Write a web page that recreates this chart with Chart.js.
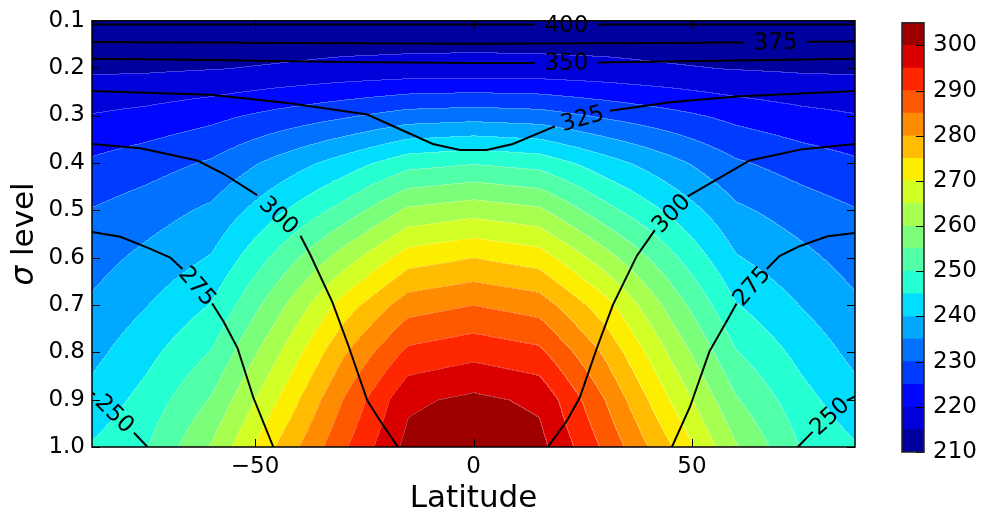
<!DOCTYPE html>
<html>
<head>
<meta charset="utf-8">
<script src="https://cdn.jsdelivr.net/npm/chart.js@4.4.1/dist/chart.umd.min.js"></script>
<style>
  html, body { margin: 0; padding: 0; background: #fff; }
  #wrap { position: relative; width: 986px; height: 518px; }
  #field { position: absolute; left: 0; top: 0; width: 986px; height: 518px; }
  #bar { position: absolute; left: 890px; top: 0; width: 96px; height: 518px; }
</style>
</head>
<body>
<div id="wrap">
  <canvas id="field" width="986" height="518"></canvas>
  <canvas id="bar" width="96" height="518"></canvas>
</div>
<script>
// temperature (K) on latitude x sigma grid
const latitudes = [-87.3, -75, -60, -45, -30, -15, 0, 15, 30, 45, 60, 75, 87.3];
const sigmaLevels = [0.1, 0.2, 0.3, 0.4, 0.5, 0.6, 0.7, 0.8, 0.9, 1.0];
const temperature = [
  [211.4, 211.2, 210.8, 211.0, 211.2, 211.3, 211.5, 211.3, 211.2, 211.0, 210.8, 211.2, 211.4],
  [214.2, 214.3, 214.8, 215.5, 216.3, 216.7, 216.8, 216.7, 216.3, 215.5, 214.8, 214.3, 214.2],
  [220.3, 221.5, 223.6, 226.6, 229.3, 232.2, 233.0, 232.2, 229.3, 226.6, 223.6, 221.5, 220.3],
  [225.8, 227.8, 230.7, 236.6, 242.2, 248.2, 249.7, 248.2, 242.2, 236.6, 230.7, 227.8, 225.8],
  [230.3, 232.6, 236.0, 244.0, 251.8, 261.0, 263.1, 261.0, 251.8, 244.0, 236.0, 232.6, 230.3],
  [233.0, 236.3, 240.4, 251.3, 262.2, 272.6, 275.0, 272.6, 262.2, 251.3, 240.4, 236.3, 233.0],
  [235.8, 239.8, 245.3, 258.2, 272.0, 282.8, 285.0, 282.8, 272.0, 258.2, 245.3, 239.8, 235.8],
  [238.6, 243.4, 250.3, 264.2, 279.2, 291.3, 293.5, 291.3, 279.2, 264.2, 250.3, 243.4, 238.6],
  [241.7, 246.8, 255.5, 269.8, 285.0, 299.0, 301.2, 299.0, 285.0, 269.8, 255.5, 246.8, 241.7],
  [245.5, 249.7, 260.5, 275.5, 289.0, 301.7, 304.0, 301.7, 289.0, 275.5, 260.5, 249.7, 245.5]
];

// filled contour levels and colorbar ticks
const levels = [210, 215, 220, 225, 230, 235, 240, 245, 250, 255, 260, 265, 270, 275, 280, 285, 290, 295, 300, 305];
const barTicks = [210, 220, 230, 240, 250, 260, 270, 280, 290, 300];
const latTicks = [-50, 0, 50];
const sigmaTicks = [0.1, 0.2, 0.3, 0.4, 0.5, 0.6, 0.7, 0.8, 0.9, 1.0];

// potential temperature contours, [lat, sigma]; null = gap holding the label
const theta400 = [[-87.3, 0.108], [14, 0.108], null, [28.5, 0.108], [87.3, 0.108]];
const theta375 = [[-87.3, 0.145], [-40, 0.147], [0, 0.1485], [40, 0.147], [62, 0.146], null, [76.3, 0.144], [87.3, 0.1435]];
const theta350 = [[-87.3, 0.180], [-60, 0.183], [-30, 0.187], [0, 0.189], [14, 0.189], null, [28.5, 0.188], [60, 0.184], [87.3, 0.180]];
const theta325 = [[-87.3, 0.248], [-60.2, 0.256], [-42, 0.274], [-24.3, 0.298], [-9.3, 0.36], [-3.1, 0.373], [3.0, 0.373],
  [9.0, 0.36], [18.6, 0.323], null, [31.2, 0.29], [45, 0.272], [60.2, 0.26], [87.3, 0.248]];
const theta300West = [[-87.3, 0.36], [-76.2, 0.369], [-63.2, 0.395], [-57.2, 0.423], [-49.5, 0.468], null,
  [-39.6, 0.554], [-37.4, 0.593], [-32.3, 0.694], [-28.7, 0.784], [-24.3, 0.902], [-21.4, 0.944], [-17.3, 1.0]];
const theta300East = [[17.0, 1.0], [21.4, 0.944], [24.3, 0.896], [28.2, 0.792], [31.9, 0.700], [37.4, 0.596], [41.5, 0.542], null,
  [49.0, 0.471], [63.2, 0.395], [75.3, 0.371], [87.3, 0.36]];
const theta275West = [[-87.3, 0.546], [-80.8, 0.556], [-74.6, 0.579], [-69.4, 0.6], [-66.6, 0.624], null,
  [-59.8, 0.697], [-57.2, 0.735], [-54.0, 0.791], [-50.4, 0.895], [-45.8, 1.0]];
const theta275East = [[45.4, 1.0], [49.5, 0.916], [54.0, 0.798], [57.9, 0.735], [60.2, 0.697], null,
  [67.1, 0.624], [70.0, 0.597], [74.6, 0.576], [81.0, 0.555], [87.3, 0.548]];
const theta250West = [[-87.3, 0.885], [-86.6, 0.89], null, [-77.7, 0.97], [-74.6, 1.0]];
const theta250East = [[74.2, 1.0], [77.6, 0.968], null, [85.4, 0.902], [87.3, 0.893]];

const contours = [
  [400, theta400], [375, theta375], [350, theta350], [325, theta325],
  [300, theta300West], [300, theta300East], [275, theta275West], [275, theta275East],
  [250, theta250West], [250, theta250East]
];

const FONT = '"DejaVu Sans", "Liberation Sans", sans-serif';
Chart.defaults.font.family = FONT;
Chart.defaults.color = '#000';

function jet(v) {
  const r = v < 0.35 ? 0 : v < 0.66 ? (v - 0.35) / 0.31 : v < 0.89 ? 1 : 1 - 0.5 * (v - 0.89) / 0.11;
  const g = v < 0.125 ? 0 : v < 0.375 ? (v - 0.125) / 0.25 : v < 0.64 ? 1 : v < 0.91 ? 1 - (v - 0.64) / 0.27 : 0;
  const b = v < 0.11 ? 0.5 + 0.5 * v / 0.11 : v < 0.34 ? 1 : v < 0.65 ? 1 - (v - 0.34) / 0.31 : 0;
  return [r, g, b].map(c => Math.round(255 * Math.max(0, Math.min(1, c))));
}

// colour of each band: jet at the band midpoint
const lo = levels[0], hi = levels[levels.length - 1];
const bandColors = levels.slice(0, -1).map((l, i) => jet(((l + levels[i + 1]) / 2 - lo) / (hi - lo)));

function locate(nodes, v) {
  let k = 0;
  while (k < nodes.length - 2 && v > nodes[k + 1]) k++;
  const f = (v - nodes[k]) / (nodes[k + 1] - nodes[k]);
  return [k, Math.max(0, Math.min(1, f))];
}

function bandOf(t) {
  let b = 0;
  while (b < levels.length - 2 && t >= levels[b + 1]) b++;
  return b;
}

// filled temperature bands behind the contour lines
const fieldPlugin = {
  id: 'field',
  beforeDatasetsDraw(chart) {
    const { ctx, chartArea: a, scales: { x, y } } = chart;
    const left = Math.round(a.left), top = Math.round(a.top);
    const w = Math.round(a.right) - left, h = Math.round(a.bottom) - top;
    const cols = [], rows = [];
    for (let i = 0; i < w; i++) cols.push(locate(latitudes, x.getValueForPixel(left + i + 0.5)));
    for (let j = 0; j < h; j++) rows.push(locate(sigmaLevels, y.getValueForPixel(top + j + 0.5)));
    const band = new Int16Array(w * h);
    for (let j = 0; j < h; j++) {
      const [r, fr] = rows[j];
      const t0 = temperature[r], t1 = temperature[r + 1];
      for (let i = 0; i < w; i++) {
        const [c, fc] = cols[i];
        const a0 = t0[c] + (t0[c + 1] - t0[c]) * fc;
        const a1 = t1[c] + (t1[c + 1] - t1[c]) * fc;
        band[j * w + i] = bandOf(a0 + (a1 - a0) * fr);
      }
    }
    const off = document.createElement('canvas');
    off.width = w; off.height = h;
    const octx = off.getContext('2d');
    const img = octx.createImageData(w, h);
    for (let j = 0; j < h; j++) {
      for (let i = 0; i < w; i++) {
        const k = j * w + i, b = band[k];
        const col = bandColors[b];
        const seam = (i > 0 && band[k - 1] !== b) || (j > 0 && band[k - w] !== b);
        for (let ch = 0; ch < 3; ch++) {
          img.data[k * 4 + ch] = seam ? col[ch] + (255 - col[ch]) * 0.25 : col[ch];
        }
        img.data[k * 4 + 3] = 255;
      }
    }
    octx.putImageData(img, 0, 0);
    ctx.drawImage(off, left, top);
  }
};

// inline level labels in the gaps of each contour
const labelPlugin = {
  id: 'labels',
  afterDatasetsDraw(chart) {
    const { ctx, scales: { x, y } } = chart;
    ctx.save();
    ctx.fillStyle = '#000';
    ctx.font = '23px ' + FONT;
    ctx.textAlign = 'center';
    ctx.textBaseline = 'middle';
    contours.forEach(([level, pts]) => {
      pts.forEach((p, k) => {
        if (p !== null) return;
        const p0 = pts[k - 1], p1 = pts[k + 1];
        const x0 = x.getPixelForValue(p0[0]), y0 = y.getPixelForValue(p0[1]);
        const x1 = x.getPixelForValue(p1[0]), y1 = y.getPixelForValue(p1[1]);
        let ang = Math.atan2(y1 - y0, x1 - x0);
        if (ang > Math.PI / 2) ang -= Math.PI;
        if (ang < -Math.PI / 2) ang += Math.PI;
        ctx.save();
        ctx.translate((x0 + x1) / 2, (y0 + y1) / 2);
        ctx.rotate(ang);
        ctx.fillText(String(level), 0, 1);
        ctx.restore();
      });
    });
    ctx.restore();
  }
};

function strokeLine(ctx, x0, y0, x1, y1) {
  ctx.beginPath(); ctx.moveTo(x0, y0); ctx.lineTo(x1, y1); ctx.stroke();
}

// frame, inward ticks and the sigma axis title
const framePlugin = {
  id: 'frame',
  afterDraw(chart) {
    const { ctx, chartArea: a, scales: { x, y } } = chart;
    ctx.save();
    ctx.strokeStyle = '#000';
    ctx.lineWidth = 1;
    latTicks.forEach(v => {
      const px = Math.round(x.getPixelForValue(v)) + 0.5;
      strokeLine(ctx, px, a.top, px, a.top + 8);
      strokeLine(ctx, px, a.bottom, px, a.bottom - 8);
    });
    sigmaTicks.forEach(v => {
      const py = Math.round(y.getPixelForValue(v)) + 0.5;
      strokeLine(ctx, a.left, py, a.left + 8, py);
      strokeLine(ctx, a.right, py, a.right - 8, py);
    });
    ctx.lineWidth = 1.5;
    ctx.strokeRect(a.left, a.top, a.right - a.left, a.bottom - a.top);

    ctx.translate(33, (a.top + a.bottom) / 2);
    ctx.rotate(-Math.PI / 2);
    ctx.fillStyle = '#000';
    ctx.textBaseline = 'alphabetic';
    ctx.textAlign = 'left';
    const italic = 'italic 31px ' + FONT, plain = '31px ' + FONT;
    ctx.font = italic;
    const w1 = ctx.measureText('σ').width;
    ctx.font = plain;
    const w2 = ctx.measureText(' level').width;
    const sx = -(w1 + w2) / 2;
    ctx.font = italic;
    ctx.fillText('σ', sx, 0);
    ctx.font = plain;
    ctx.fillText(' level', sx + w1, 0);
    ctx.restore();
  }
};

const lineSets = contours.map(([level, pts]) => ({
  label: String(level),
  data: pts.map(p => p ? { x: p[0], y: p[1] } : { x: null, y: null }),
  showLine: true,
  spanGaps: false,
  borderColor: '#000',
  borderWidth: 2,
  pointRadius: 0,
  tension: 0
}));

const fmtLat = v => v < 0 ? '\u2212' + Math.abs(v) : String(v);

new Chart(document.getElementById('field'), {
  type: 'scatter',
  data: { datasets: lineSets },
  options: {
    responsive: false,
    animation: false,
    events: [],
    layout: { padding: { left: 0, top: 15, right: 131, bottom: 0 } },
    plugins: { legend: { display: false }, tooltip: { enabled: false } },
    scales: {
      x: {
        type: 'linear',
        min: latitudes[0],
        max: latitudes[latitudes.length - 1],
        bounds: 'data',
        grid: { display: false, drawTicks: false },
        border: { display: false },
        afterBuildTicks: s => { s.ticks = latTicks.map(v => ({ value: v })); },
        afterFit: s => { s.height = 71; },
        ticks: { autoSkip: false, maxRotation: 0, padding: 6, font: { size: 23 }, callback: v => fmtLat(v) },
        title: { display: true, text: 'Latitude', font: { size: 31 }, padding: { top: 0, bottom: 0 } }
      },
      y: {
        type: 'linear',
        reverse: true,
        min: sigmaLevels[0],
        max: sigmaLevels[sigmaLevels.length - 1],
        bounds: 'data',
        grid: { display: false, drawTicks: false },
        border: { display: false },
        afterBuildTicks: s => { s.ticks = sigmaTicks.map(v => ({ value: v })); },
        afterFit: s => { s.width = 92; },
        ticks: { autoSkip: false, padding: 7, font: { size: 23 }, callback: v => v.toFixed(1) }
      }
    }
  },
  plugins: [fieldPlugin, labelPlugin, framePlugin]
});

// colorbar: one floating bar per band
const barFrame = {
  id: 'barFrame',
  afterDraw(chart) {
    const { ctx, chartArea: a, scales: { y } } = chart;
    ctx.save();
    ctx.strokeStyle = '#000';
    ctx.lineWidth = 1;
    barTicks.forEach(v => {
      const py = Math.round(y.getPixelForValue(v)) + 0.5;
      strokeLine(ctx, a.right, py, a.right - 8, py);
    });
    ctx.strokeStyle = '#222';
    ctx.lineWidth = 1.5;
    ctx.strokeRect(a.left, a.top, a.right - a.left, a.bottom - a.top);
    ctx.restore();
  }
};

new Chart(document.getElementById('bar'), {
  type: 'bar',
  data: {
    labels: ['T'],
    datasets: levels.slice(0, -1).map((l, i) => ({
      data: [[l, levels[i + 1]]],
      backgroundColor: 'rgb(' + bandColors[i].join(',') + ')'
    }))
  },
  options: {
    responsive: false,
    animation: false,
    events: [],
    layout: { padding: { left: 12, top: 10, right: 0, bottom: 66 } },
    plugins: { legend: { display: false }, tooltip: { enabled: false } },
    datasets: { bar: { grouped: false, categoryPercentage: 1, barPercentage: 1, borderWidth: 0 } },
    scales: {
      x: { display: false },
      y: {
        position: 'right',
        min: lo,
        max: hi,
        bounds: 'data',
        grid: { display: false, drawTicks: false },
        border: { display: false },
        afterBuildTicks: s => { s.ticks = barTicks.map(v => ({ value: v })); },
        afterFit: s => { s.width = 62; },
        ticks: { autoSkip: false, padding: 9, font: { size: 23 }, callback: v => String(v) }
      }
    }
  },
  plugins: [barFrame]
});
</script>
</body>
</html>
